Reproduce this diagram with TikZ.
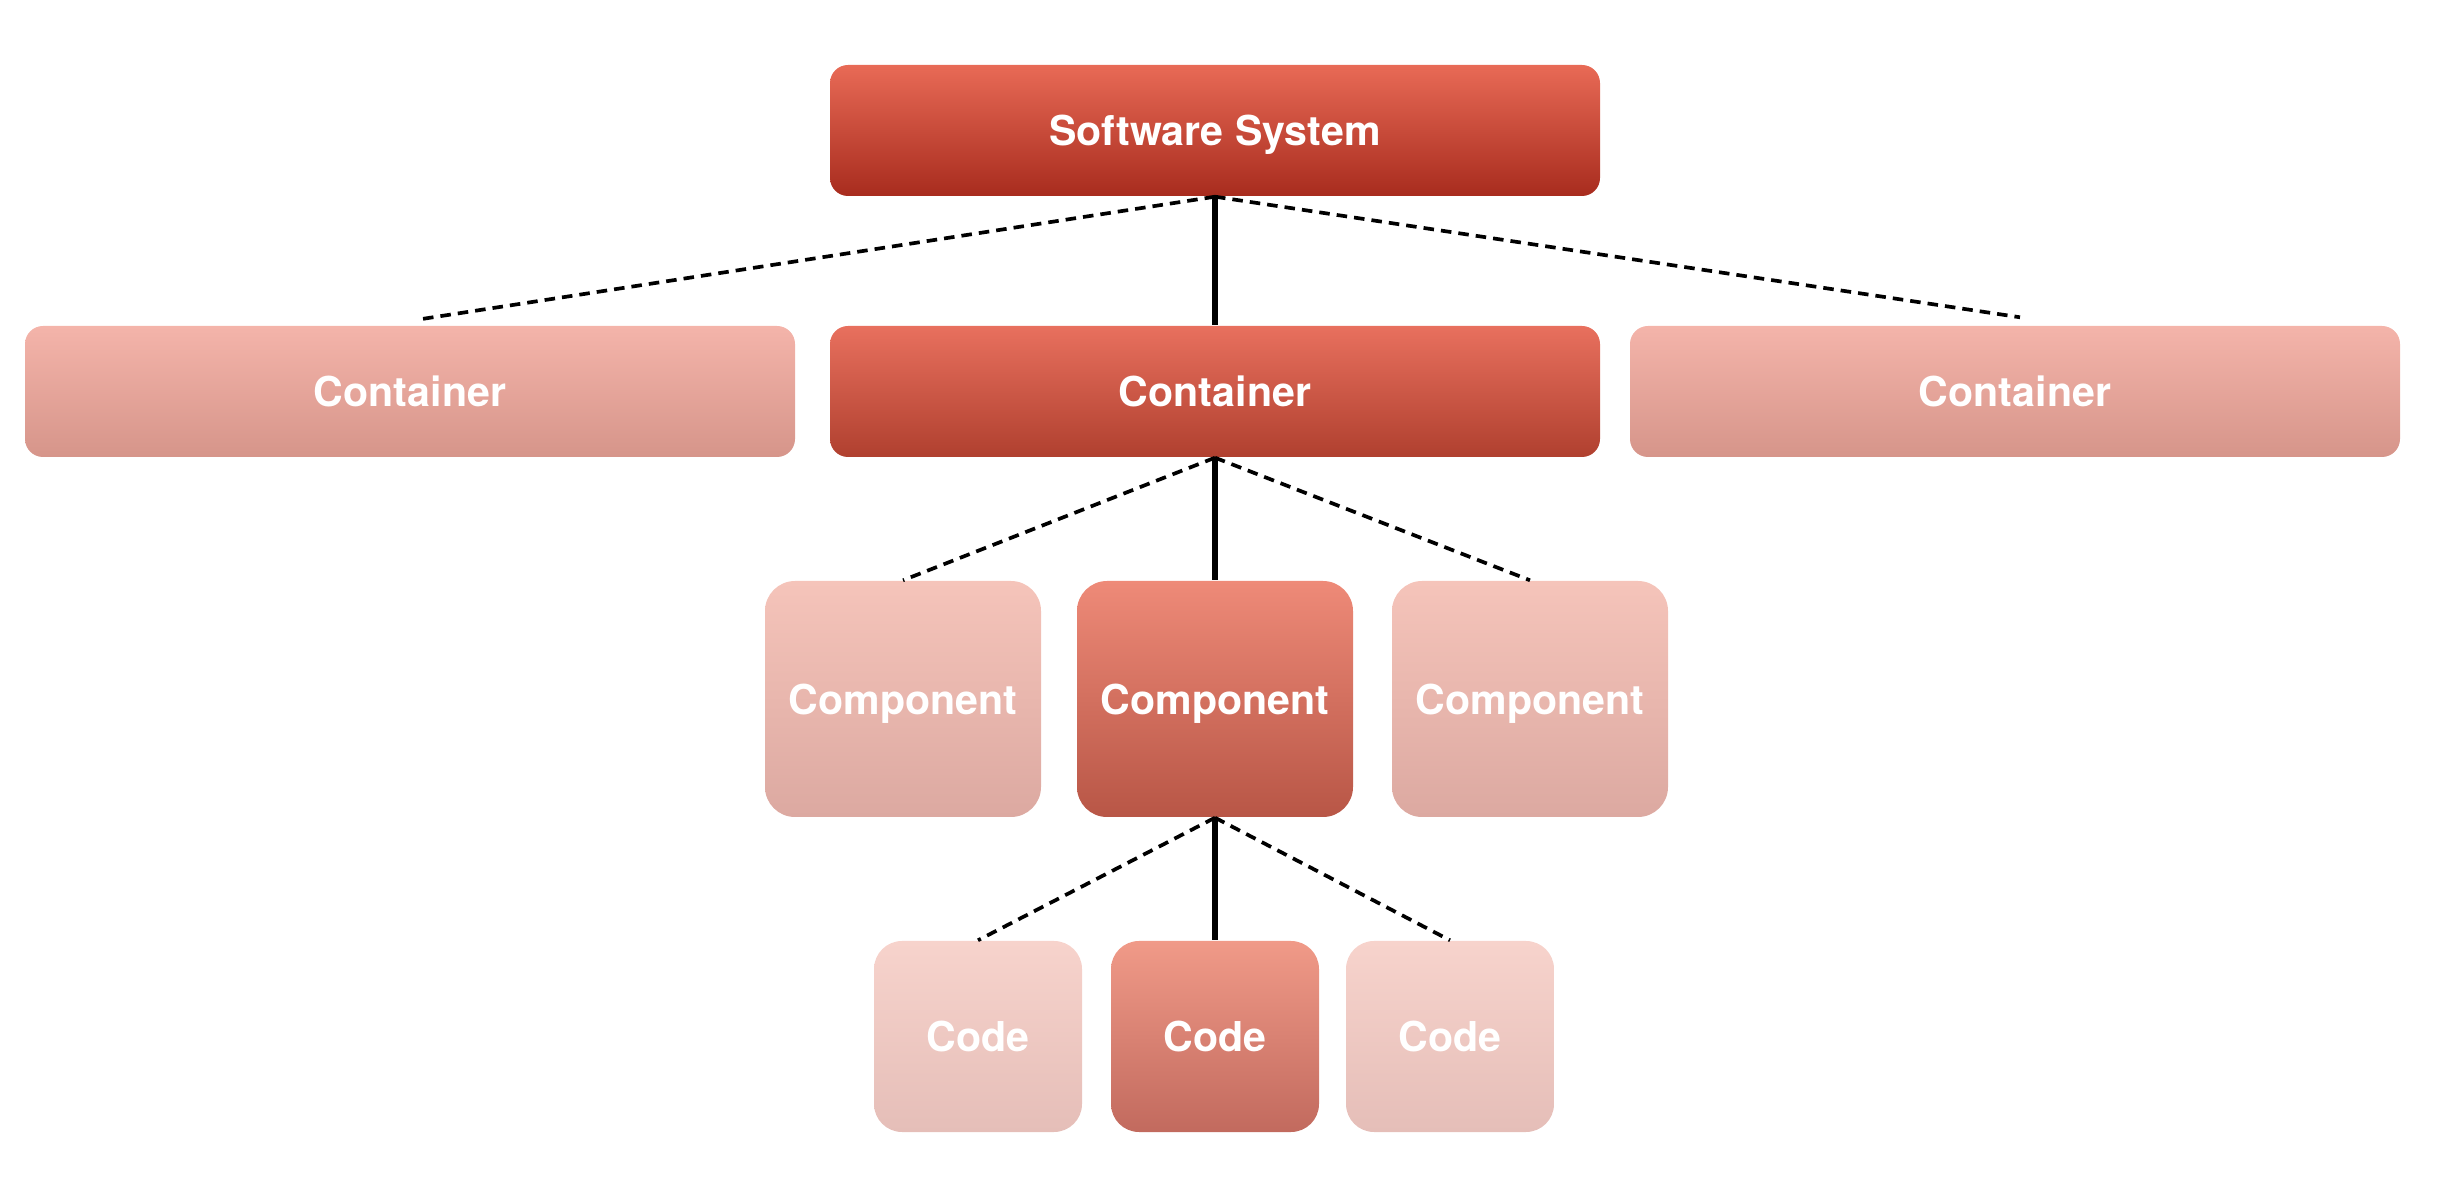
\documentclass[tikz,border=0pt]{standalone}
\usepackage{fontspec}
\setmainfont{TeX Gyre Heros}
\usepackage{tikz}
\usetikzlibrary{positioning}

\definecolor{sysTop}{HTML}{E86A56}
\definecolor{sysBot}{HTML}{A82C1E}
\definecolor{contTop}{HTML}{E8705E}
\definecolor{contBot}{HTML}{B0402F}
\definecolor{contTopL}{HTML}{F4B4AA}
\definecolor{contBotL}{HTML}{D6958A}
\definecolor{compTop}{HTML}{EE8A78}
\definecolor{compBot}{HTML}{B85646}
\definecolor{compTopL}{HTML}{F5C4BA}
\definecolor{compBotL}{HTML}{DCA9A1}
\definecolor{codeTop}{HTML}{F09A88}
\definecolor{codeBot}{HTML}{C26A5E}
\definecolor{codeTopL}{HTML}{F7D3CC}
\definecolor{codeBotL}{HTML}{E5BEB8}

\newcommand{\labelfont}{\fontsize{11.7}{14}\selectfont\bfseries}

\begin{document}
\begin{tikzpicture}[
  block/.style 2 args={top color=#1, bottom color=#2, draw=none,
                       text=white, font=\labelfont, inner sep=0pt, text depth=0pt},
  widebox/.style={minimum width=7.7cm, minimum height=1.31cm, rounded corners=0.18cm},
  compbox/.style={minimum width=2.76cm, minimum height=2.36cm, rounded corners=0.3cm},
  codebox/.style={minimum width=2.08cm, minimum height=1.91cm, rounded corners=0.28cm},
  link/.style={line width=1.7pt},
  other/.style={line width=1.05pt, dash pattern=on 3pt off 2pt},
]
  \useasboundingbox (0,0) rectangle (24.44,-11.90);

  \node[block={sysTop}{sysBot}, widebox] (sys) at (12.15,-1.305) {Software System};

  \node[block={contTopL}{contBotL}, widebox] (contL) at (4.10,-3.915) {Container};
  \node[block={contTop}{contBot}, widebox] (contM) at (12.15,-3.915) {Container};
  \node[block={contTopL}{contBotL}, widebox] (contR) at (20.15,-3.915) {Container};

  \node[block={compTopL}{compBotL}, compbox] (compL) at (9.03,-6.99) {Component};
  \node[block={compTop}{compBot}, compbox] (compM) at (12.15,-6.99) {Component};
  \node[block={compTopL}{compBotL}, compbox] (compR) at (15.30,-6.99) {Component};

  \node[block={codeTopL}{codeBotL}, codebox] (codeL) at (9.78,-10.365) {Code};
  \node[block={codeTop}{codeBot}, codebox] (codeM) at (12.15,-10.365) {Code};
  \node[block={codeTopL}{codeBotL}, codebox] (codeR) at (14.50,-10.365) {Code};

  % zoom path
  \draw[link] (sys.south) -- (contM.north);
  \draw[link] (contM.south) -- (compM.north);
  \draw[link] (compM.south) -- (codeM.north);

  % siblings
  \draw[other] (sys.south) -- ([xshift=0.1cm,yshift=0.06cm]contL.north);
  \draw[other] (sys.south) -- ([xshift=0.05cm,yshift=0.08cm]contR.north);
  \draw[other] (contM.south) -- (compL.north);
  \draw[other] (contM.south) -- (compR.north);
  \draw[other] (compM.south) -- (codeL.north);
  \draw[other] (compM.south) -- (codeR.north);
\end{tikzpicture}
\end{document}
